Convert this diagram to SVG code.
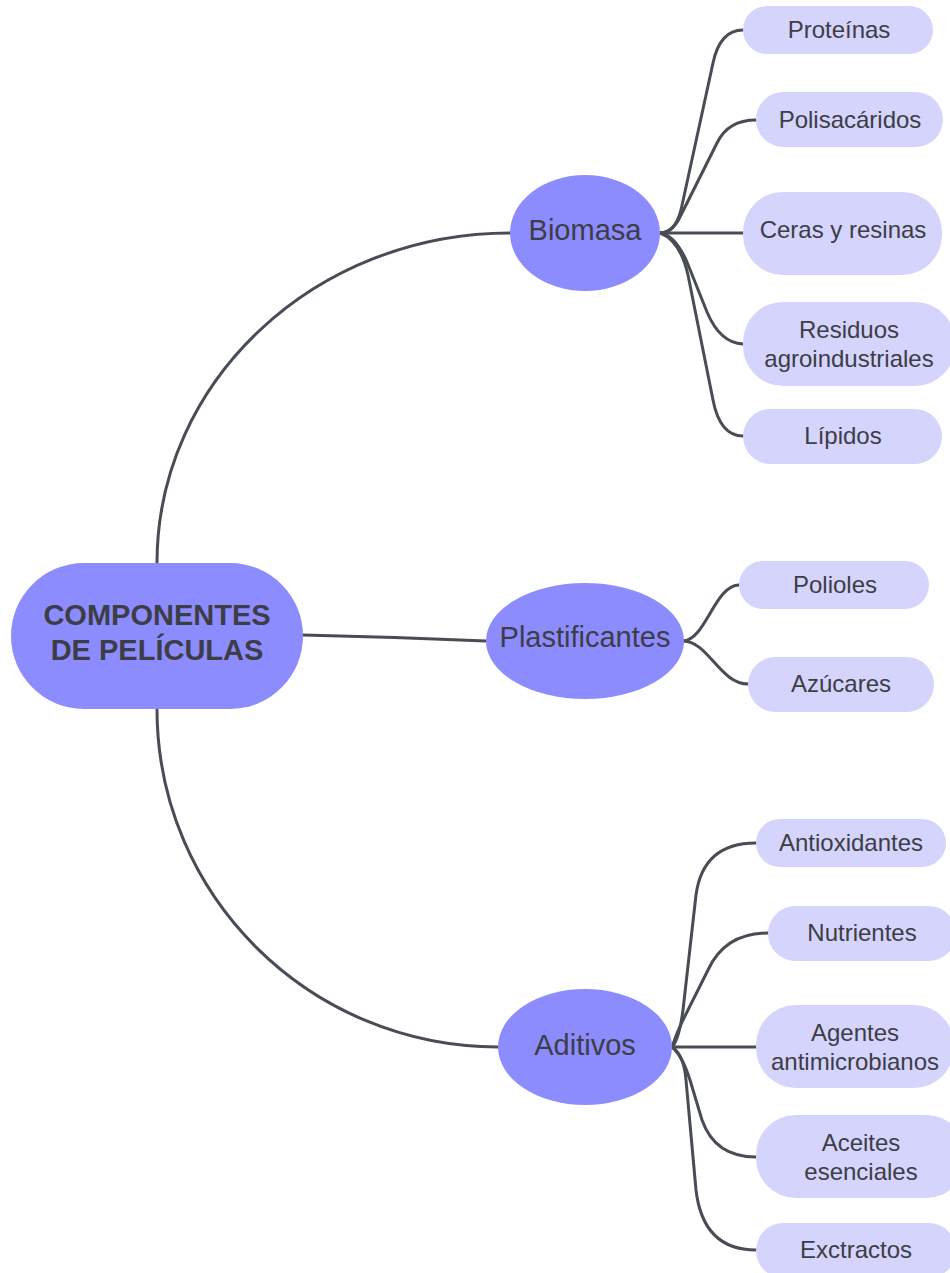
<svg xmlns="http://www.w3.org/2000/svg" width="950" height="1273" viewBox="0 0 950 1273">
<style>
.root{fill:#8c8cff}
.par{fill:#8c8cff}
.leaf{fill:#d4d4fd}
text{font-family:"Liberation Sans",Arial,sans-serif;fill:#3d3d45;text-anchor:middle}
.tr{font-size:29px;font-weight:bold}
.tp{font-size:29px}
.tl{font-size:24px}
.c path{fill:none;stroke:#474c55;stroke-width:3;stroke-linecap:round}
</style>
<rect width="950" height="1273" fill="#ffffff"/>
<g class="c" id="connectors">
<path d="M157,563 C157,381 315,233 510,233"/>
<path d="M157,709 C157,896 310,1047 498,1047"/>
<path d="M303,635 Q395,637 486,641"/>
<path d="M660,233 Q675,233 681,210 L713,63 Q720,30 743,30"/>
<path d="M660,233 Q672,233 680,217 L717,143 Q728,120 756,120"/>
<path d="M660,233 L743,233"/>
<path d="M660,233 Q675,235 687,262 L707,312 Q720,343 743,344"/>
<path d="M660,233 Q680,240 688,275 L713,400 Q720,436 743,436"/>
<path d="M683,641 C705,641 715,585 739,585"/>
<path d="M683,641 C708,641 720,684 748,684"/>
<path d="M672,1047 Q679,1040 683,1010 L696,895 Q703,843 756,843"/>
<path d="M672,1047 Q676,1035 682,1022 L708,970 Q725,933 768,933"/>
<path d="M672,1047 L756,1047"/>
<path d="M672,1047 Q682,1055 690,1080 L702,1120 Q715,1157 756,1157"/>
<path d="M672,1047 Q684,1055 686,1080 L696,1190 Q703,1250 756,1250"/>
</g>
<g id="root"><rect class="root" x="11" y="563" width="292" height="146" rx="73"/><text class="tr" x="157" y="625">COMPONENTES</text><text class="tr" x="157" y="660">DE PELÍCULAS</text></g>
<g id="biomasa"><ellipse class="par" cx="585" cy="233" rx="75" ry="58"/><text class="tp" x="585" y="240">Biomasa</text></g>
<g id="plastificantes"><ellipse class="par" cx="585" cy="641" rx="99" ry="58"/><text class="tp" x="585" y="647">Plastificantes</text></g>
<g id="aditivos"><ellipse class="par" cx="585" cy="1047" rx="87" ry="58"/><text class="tp" x="585" y="1055">Aditivos</text></g>
<g id="proteinas"><rect class="leaf" x="743" y="6" width="190" height="48" rx="24"/><text class="tl" x="839" y="38">Proteínas</text></g>
<g id="polisacaridos"><rect class="leaf" x="756" y="92" width="187" height="55" rx="27.5"/><text class="tl" x="850" y="128">Polisacáridos</text></g>
<g id="ceras"><rect class="leaf" x="743" y="192" width="199" height="83" rx="40"/><text class="tl" x="843" y="238">Ceras y resinas</text></g>
<g id="residuos"><rect class="leaf" x="743" y="302" width="212" height="84" rx="40"/><text class="tl" x="849" y="338">Residuos</text><text class="tl" x="849" y="367">agroindustriales</text></g>
<g id="lipidos"><rect class="leaf" x="743" y="409" width="199" height="55" rx="27.5"/><text class="tl" x="843" y="444">Lípidos</text></g>
<g id="polioles"><rect class="leaf" x="739" y="561" width="190" height="48" rx="24"/><text class="tl" x="835" y="593">Polioles</text></g>
<g id="azucares"><rect class="leaf" x="748" y="657" width="186" height="55" rx="27.5"/><text class="tl" x="841" y="692">Azúcares</text></g>
<g id="antioxidantes"><rect class="leaf" x="756" y="819" width="190" height="48" rx="24"/><text class="tl" x="851" y="851">Antioxidantes</text></g>
<g id="nutrientes"><rect class="leaf" x="768" y="906" width="188" height="55" rx="27.5"/><text class="tl" x="862" y="941">Nutrientes</text></g>
<g id="agentes"><rect class="leaf" x="756" y="1005" width="198" height="83" rx="40"/><text class="tl" x="855" y="1041">Agentes</text><text class="tl" x="855" y="1070">antimicrobianos</text></g>
<g id="aceites"><rect class="leaf" x="756" y="1115" width="210" height="83" rx="40"/><text class="tl" x="861" y="1151">Aceites</text><text class="tl" x="861" y="1180">esenciales</text></g>
<g id="exctractos"><rect class="leaf" x="756" y="1223" width="200" height="55" rx="27.5"/><text class="tl" x="856" y="1258">Exctractos</text></g>
</svg>
